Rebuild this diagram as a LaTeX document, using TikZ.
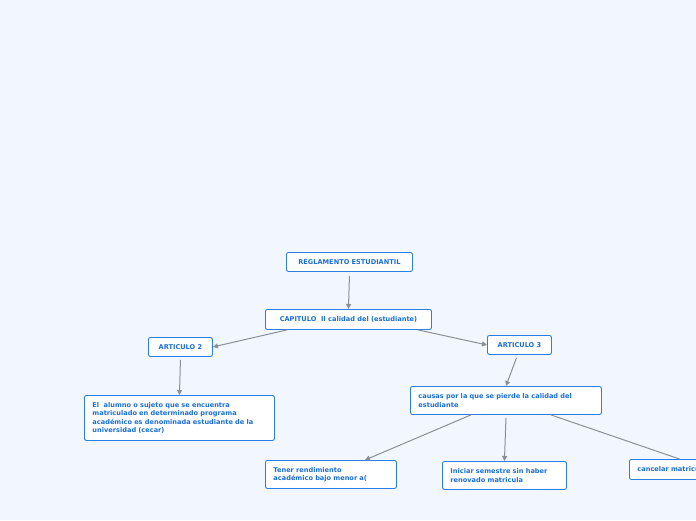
\documentclass[tikz,border=0pt]{standalone}
\usepackage{fontspec}
\setmainfont{DejaVu Sans}
\definecolor{bg}{HTML}{F2F6FE}
\definecolor{txt}{HTML}{1A6FD6}
\definecolor{bd}{HTML}{2A7FE0}
\definecolor{ln}{HTML}{8A8F99}
\usetikzlibrary{arrows.meta}
\begin{document}
\begin{tikzpicture}[x=1pt,y=-1pt,
 box/.style={draw=bd,line width=0.9pt,fill=white,rounded corners=2pt,font=\bfseries\fontsize{6.6}{8.2}\selectfont,text=txt,inner sep=0pt,align=left,anchor=north west},
 con/.style={draw=ln,line width=1pt,-{Triangle[length=5pt,width=5pt]}}]
\fill[bg] (0,0) rectangle (696,520);
\useasboundingbox (0,0) rectangle (696,520);
\clip (0,0) rectangle (696,520);
\node[box,minimum width=126,minimum height=19,align=center] (reg) at (286,252) {REGLAMENTO ESTUDIANTIL};
\node[box,minimum width=166,minimum height=20,align=center] (cap) at (265,309) {CAPITULO\ \ II calidad del (estudiante)};
\node[box,minimum width=64,minimum height=19,align=center] (a2) at (148,337) {ARTICULO 2};
\node[box,minimum width=64,minimum height=19,align=center] (a3) at (487,335) {ARTICULO 3};
\node[box,minimum width=190,minimum height=45,text width=174,inner xsep=8] (el) at (84,395) {El\ \ alumno o sujeto que se encuentra\\matriculado en determinado programa\\académico es denominada estudiante de la\\universidad (cecar)};
\node[box,minimum width=191,minimum height=28,text width=175,inner xsep=8] (cau) at (410,386) {causas por la que se pierde la calidad del\\estudiante};
\node[box,minimum width=131,minimum height=28,text width=115,inner xsep=8] (ten) at (265,460) {Tener rendimiento\\académico bajo menor a(};
\node[box,minimum width=124,minimum height=28,text width=108,inner xsep=8] (ini) at (442,461) {Iniciar semestre sin haber\\renovado matricula};
\node[box,minimum width=100,minimum height=20,text width=84,inner xsep=8] (can) at (629,459) {cancelar matricula};
\coordinate (tenin) at (365,460);
\draw[con] (reg.south) ++(0,4) -- (cap.north);
\draw[con] (cap.south west) ++(22,0) -- (a2.east);
\draw[con] (cap.south east) ++(-14,0) -- (a3.west);
\draw[con] (a2.south) ++(0,3) -- (el.north);
\draw[con] (a3.south) ++(-3,3) -- (cau.north);
\draw[con] (cau.south) ++(-35,0) -- (tenin);
\draw[con] (cau.south) ++(0,3) -- (ini.north);
\draw[draw=ln,line width=1pt] (cau.south) ++(45,0) -- (can.north);
\end{tikzpicture}
\end{document}
